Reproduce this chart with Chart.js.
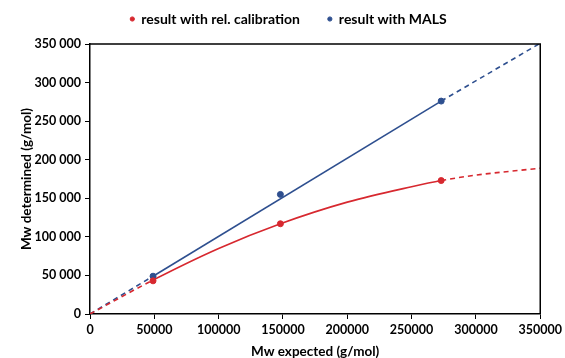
<!DOCTYPE html>
<html>
<head>
<meta charset="utf-8">
<script src="https://cdn.jsdelivr.net/npm/chart.js@4.4.1/dist/chart.umd.min.js"></script>
<style>
  html, body { margin: 0; padding: 0; background: #fff; }
  #wrap { width: 565px; height: 358px; }
</style>
</head>
<body>
<div id="wrap"><canvas id="chart" width="565" height="358"></canvas></div>
<script>
// measured points
const expected = [49000, 148000, 273000];
const relCalibration = [43000, 117000, 173000];
const mals = [49000, 155000, 276000];

// trend lines
const relFitX = [0, 49000, 100000, 148000, 200000, 250000, 273000, 300000, 350000];
const relFitY = [0, 44000, 85000, 117000, 145000, 165000, 173000, 180000, 189000];
const malsFitX = [0, 49000, 273000, 350000];
const malsFitY = [0, 49000, 276000, 351000];

const RED = '#d7282f';
const BLUE = '#2e4f8f';
const FONT = 'Lato, "Open Sans", sans-serif';

const toXY = (xs, ys) => xs.map((x, i) => ({ x: x, y: ys[i] }));

// dashed outside the measured range, solid inside
const dashOutside = (ctx) => {
    const x0 = ctx.p0.parsed.x;
    return (x0 < expected[0] || x0 >= expected[expected.length - 1]) ? [5, 4] : undefined;
};

const frame = {
    id: 'frame',
    afterDatasetsDraw(chart) {
        const { ctx, chartArea: a } = chart;
        ctx.save();
        ctx.strokeStyle = '#000';
        ctx.lineWidth = 1.5;
        ctx.beginPath();
        ctx.moveTo(a.left, a.top);
        ctx.lineTo(a.right, a.top);
        ctx.lineTo(a.right, a.bottom);
        ctx.stroke();
        ctx.restore();
    }
};

// fixed legend block height so the plot starts where the original does
const legendBox = {
    id: 'legendBox',
    beforeInit(chart) {
        const lg = chart.legend;
        const fit = lg.fit;
        lg.fit = function () {
            fit.call(this);
            this.height = 44;
        };
    },
    afterLayout(chart) {
        const lg = chart.legend;
        lg.top = -16;
        lg.bottom = 44;
        lg.left += 17;
        lg.right += 17;
    }
};

new Chart(document.getElementById('chart'), {
    type: 'scatter',
    data: {
        datasets: [
            {
                label: 'result with rel. calibration',
                data: toXY(expected, relCalibration),
                backgroundColor: RED,
                borderColor: RED,
                pointRadius: 3,
                pointHoverRadius: 3
            },
            {
                label: 'result with MALS',
                data: toXY(expected, mals),
                backgroundColor: BLUE,
                borderColor: BLUE,
                pointRadius: 3,
                pointHoverRadius: 3
            },
            {
                label: 'fit rel',
                data: toXY(relFitX, relFitY),
                showLine: true,
                borderColor: RED,
                borderWidth: 1.6,
                pointRadius: 0,
                cubicInterpolationMode: 'monotone',
                segment: { borderDash: dashOutside }
            },
            {
                label: 'fit mals',
                data: toXY(malsFitX, malsFitY),
                showLine: true,
                borderColor: BLUE,
                borderWidth: 1.6,
                pointRadius: 0,
                segment: { borderDash: dashOutside }
            }
        ]
    },
    options: {
        responsive: false,
        animation: false,
        layout: { padding: { left: 0, right: 22, top: 0, bottom: 0 } },
        plugins: {
            tooltip: { enabled: false },
            legend: {
                position: 'top',
                labels: {
                    filter: (item) => item.datasetIndex < 2,
                    usePointStyle: true,
                    pointStyle: 'circle',
                    boxWidth: 4,
                    boxHeight: 3,
                    padding: 28,
                    color: '#000',
                    font: { family: FONT, size: 14, weight: 'bold' }
                }
            }
        },
        scales: {
            x: {
                type: 'linear',
                min: 0,
                max: 350000,
                afterFit: (s) => { s.height = 44; },
                ticks: {
                    stepSize: 50000,
                    color: '#000',
                    padding: 3,
                    maxRotation: 0,
                    font: { family: FONT, size: 12.5, weight: 'bold' },
                    callback: (v) => String(v)
                },
                grid: { drawOnChartArea: false, tickLength: 5, color: '#000' },
                border: { color: '#000', width: 1.5 },
                title: {
                    display: true,
                    text: 'Mw expected (g/mol)',
                    color: '#000',
                    font: { family: FONT, size: 13.5, weight: 'bold' },
                    padding: { top: 2, bottom: -2 }
                }
            },
            y: {
                type: 'linear',
                min: 0,
                max: 350000,
                afterFit: (s) => { s.width = 90; },
                ticks: {
                    stepSize: 50000,
                    color: '#000',
                    padding: 4,
                    font: { family: FONT, size: 12.5, weight: 'bold' },
                    callback: (v) => String(v).replace(/\B(?=(\d{3})+(?!\d))/g, ' ')
                },
                grid: { drawOnChartArea: false, tickLength: 5, color: '#000' },
                border: { color: '#000', width: 1.5 },
                title: {
                    display: true,
                    text: 'Mw determined (g/mol)',
                    color: '#000',
                    font: { family: FONT, size: 13.5, weight: 'bold' },
                    padding: { top: 19, bottom: 0 }
                }
            }
        }
    },
    plugins: [frame, legendBox]
});
</script>
</body>
</html>
